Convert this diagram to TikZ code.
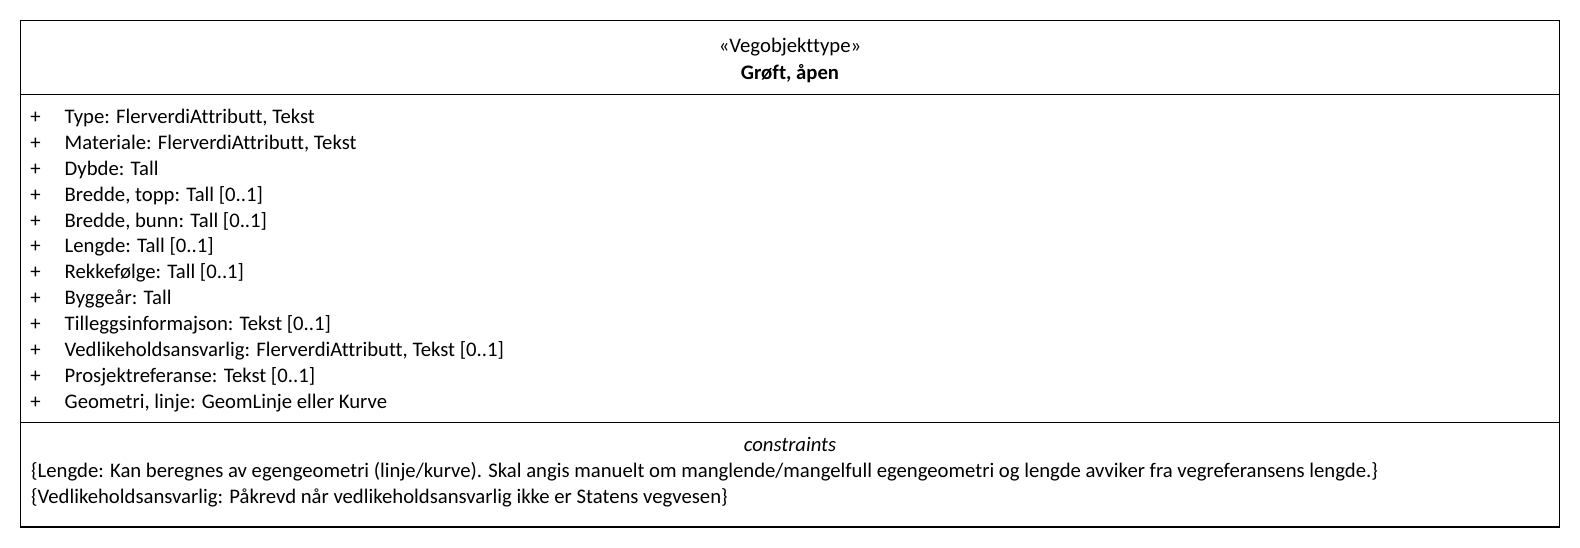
\documentclass[tikz,border=0pt]{standalone}
\usepackage{fontspec}
\setmainfont{Carlito}[Ligatures=NoCommon]
\begin{document}
\begin{tikzpicture}[x=1pt,y=-1pt,
  frame/.style={draw=black,line width=1.2pt},
  txt/.style={inner sep=0pt,font=\fontsize{20.7}{25}\selectfont},
  attr/.style={txt,anchor=base west},
  plussign/.style={txt,anchor=base}]
\useasboundingbox (0,0) rectangle (1580,548);
% class frame and compartments
\draw[frame] (20.5,20.5) rectangle (1559.5,527);
\draw[frame] (20.5,94.3) -- (1559.5,94.3);
\draw[frame] (20.5,422.3) -- (1559.5,422.3);
% header
\node[txt,anchor=base] (stereo) at (790,52.7) {«Vegobjekttype»};
\node[txt,anchor=base,font=\fontsize{20.7}{25}\selectfont\bfseries] (name) at (790,79.2) {Grøft, åpen};
% attributes
\foreach \t [count=\i from 0] in {
  {Type: FlerverdiAttributt, Tekst},
  {Materiale: FlerverdiAttributt, Tekst},
  {Dybde: Tall},
  {Bredde, topp: Tall [0..1]},
  {Bredde, bunn: Tall [0..1]},
  {Lengde: Tall [0..1]},
  {Rekkefølge: Tall [0..1]},
  {Byggeår: Tall},
  {Tilleggsinformajson: Tekst [0..1]},
  {Vedlikeholdsansvarlig: FlerverdiAttributt, Tekst [0..1]},
  {Prosjektreferanse: Tekst [0..1]},
  {Geometri, linje: GeomLinje eller Kurve}} {
  \node[plussign] (p\i) at (35.5,123.5+25.9*\i) {+};
  \node[attr] (a\i) at (64.5,123.5+25.9*\i) {\t};
}
% constraints
\node[txt,anchor=base,font=\fontsize{20.7}{25}\selectfont\itshape] (ctitle) at (790,451) {constraints};
\node[attr] (c1) at (31,477) {\{Lengde: Kan beregnes av egengeometri (linje/kurve). Skal angis manuelt om manglende/mangelfull egengeometri og lengde avviker fra vegreferansens lengde.\}};
\node[attr] (c2) at (31,503.5) {\{Vedlikeholdsansvarlig: Påkrevd når vedlikeholdsansvarlig ikke er Statens vegvesen\}};
\end{tikzpicture}
\end{document}
